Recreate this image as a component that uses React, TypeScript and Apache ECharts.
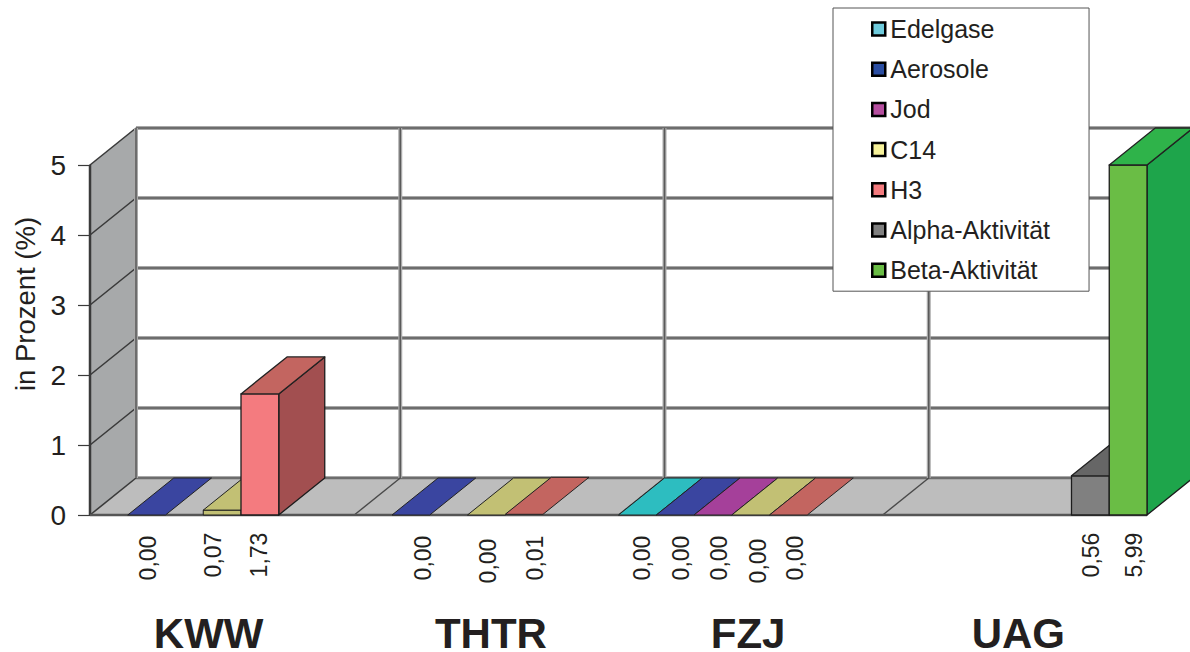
import React, { useEffect, useRef } from "react";
import * as echarts from "echarts";

const categories = ["KWW", "THTR", "FZJ", "UAG"];
const yTicks = [0, 1, 2, 3, 4, 5];
const seriesNames = ["Edelgase", "Aerosole", "Jod", "C14", "H3", "Alpha-Aktivität", "Beta-Aktivität"];
const edelgase = [null, null, 0.0, null];
const aerosole = [0.0, 0.0, 0.0, null];
const jod = [null, null, 0.0, null];
const c14 = [0.07, 0.0, 0.0, null];
const h3 = [1.73, 0.01, 0.0, null];
const alpha = [null, null, null, 0.56];
const beta = [null, null, null, 5.99];
const seriesValues = [edelgase, aerosole, jod, c14, h3, alpha, beta];

// Presentation only
const FRONT = ["#6fcbdc", "#2b4ea2", "#b54e9f", "#f7f29a", "#f47b7f", "#808080", "#6abd45"];
const TOP = ["#2dbdc0", "#3a45a0", "#a5409a", "#c2c074", "#c36560", "#666666", "#2fb34a"];
const SIDE = ["#25a0a3", "#2c3580", "#85337c", "#9a985c", "#a24f50", "#555555", "#1ea54b"];
const LABEL_NUDGE: Record<string, [number, number]> = {
  "1-0": [1, 0], "3-0": [-9, -3], "4-0": [-1, -3],
  "1-1": [12, 0], "3-1": [2, 3], "4-1": [11, 0],
  "0-2": [5, 0], "1-2": [6, 0], "2-2": [6, 0], "3-2": [7, 3], "4-2": [7, 0],
  "5-3": [1, -3], "6-3": [6, -3],
};
const DX = 46;
const DY = -37;
const SEGMENTS = seriesNames.length;
const INK = "#231f20";
const FONT = '"Liberation Sans", Arial, sans-serif';

function line(a: number[], b: number[], stroke: string, lineWidth: number) {
  return { type: "line", silent: true, shape: { x1: a[0], y1: a[1], x2: b[0], y2: b[1] }, style: { stroke, lineWidth } };
}
function poly(points: number[][], fill: string, stroke: string, lineWidth = 1) {
  return { type: "polygon", silent: true, shape: { points }, style: { fill, stroke, lineWidth, lineJoin: "round" } };
}
function gridStroke(a: number[], b: number[]) {
  return [line(a, b, "#a9a9a9", 4), line(a, b, "#5a5a5a", 1.5)];
}

function renderWalls(_p: any, api: any) {
  const band = api.size([1, 0])[0];
  const [x0, y0] = api.coord([0, 0]);
  const left = x0 - band / 2;
  const right = left + band * categories.length;
  const yTop = api.coord([0, 5])[1];
  const children: any[] = [];
  children.push(poly([[left, y0], [left + DX, y0 + DY], [left + DX, yTop + DY], [left, yTop]], "#a7a9aa", "none"));
  children.push(poly([[left, y0], [right, y0], [right + DX, y0 + DY], [left + DX, y0 + DY]], "#bdbdbd", "none"));
  yTicks.forEach((t) => {
    const y = api.coord([0, t])[1];
    children.push(...gridStroke([left + DX, y + DY], [right + DX, y + DY]));
    children.push(line([left, y], [left + DX, y + DY], "#3a3a3a", 1.6));
  });
  categories.forEach((_c, i) => {
    const x = left + band * i;
    children.push(...gridStroke([x + DX, yTop + DY], [x + DX, y0 + DY]));
    if (i > 0) children.push(line([x, y0], [x + DX, y0 + DY], "#4a4a4a", 1.4));
  });
  children.push(line([left, yTop], [left, y0], "#3a3a3a", 2.5));
  children.push(line([left, y0], [right, y0], "#555555", 2.5));
  return { type: "group", children };
}

function renderBar(s: number) {
  return (_p: any, api: any) => {
    const cat = api.value(0);
    const v = api.value(1);
    const band = api.size([1, 0])[0];
    const seg = band / SEGMENTS;
    const c = api.coord([cat, 0]);
    const top = api.coord([cat, Math.min(v, 5)])[1];
    const xa = c[0] - band / 2 + seg * s;
    const xb = xa + seg;
    const y0 = c[1];
    const ink = "#1c1c1c";
    const h = y0 - top;
    const children: any[] = [];
    if (h > 8) {
      children.push(poly([[xb, y0], [xb + DX, y0 + DY], [xb + DX, top + DY], [xb, top]], SIDE[s], ink, 1.3));
      children.push(poly([[xa, y0], [xb, y0], [xb, top], [xa, top]], FRONT[s], ink, 1.3));
    } else if (h > 0.8) {
      children.push(poly([[xa, y0], [xb, y0], [xb, top], [xa, top]], TOP[s], ink, 1));
    }
    children.push(poly([[xa, top], [xb, top], [xb + DX, top + DY], [xa + DX, top + DY]], TOP[s], "#222222", h > 8 ? 1.3 : 1));
    const nudge = LABEL_NUDGE[`${s}-${cat}`] || [0, 0];
    children.push({
      type: "text",
      silent: true,
      x: (xa + xb) / 2 + nudge[0],
      y: 558 + nudge[1],
      rotation: Math.PI / 2,
      style: {
        text: v.toFixed(2).replace(".", ","),
        x: 0,
        y: 0,
        align: "center",
        verticalAlign: "middle",
        fill: INK,
        font: `23px ${FONT}`,
      },
    });
    return { type: "group", children };
  };
}

const CAT_PAD: Record<string, number[]> = {
  KWW: [0, 27, 0, 0],
  THTR: [0, 0, 0, 9],
  FZJ: [0, 5, 0, 0],
  UAG: [0, 0, 0, 7],
};

export default function App() {
  const ref = useRef<HTMLDivElement>(null);
  useEffect(() => {
    document.body.style.margin = "0";
    const chart = echarts.init(ref.current!, undefined, { renderer: "svg" });
    const rich: any = {};
    categories.forEach((c) => {
      rich[c] = { fontSize: 42, lineHeight: 36, fontWeight: "bold", color: INK, fontFamily: FONT, padding: CAT_PAD[c] };
    });
    chart.setOption({
      animation: false,
      backgroundColor: "#ffffff",
      textStyle: { fontFamily: FONT },
      grid: { left: 90, right: 43, top: 165, bottom: 137, containLabel: false, outerBoundsMode: "none" },
      legend: {
        orient: "vertical",
        left: 833,
        top: 8,
        selectedMode: false,
        backgroundColor: "#ffffff",
        borderColor: "#555555",
        borderWidth: 1,
        padding: [8.5, 39, 8.5, 38],
        itemGap: 15.2,
        itemWidth: 13,
        itemHeight: 13,
        textStyle: { fontSize: 25, color: INK, fontFamily: FONT, lineHeight: 25 },
        data: seriesNames.map((name, i) => ({
          name,
          icon: "rect",
          itemStyle: { color: FRONT[i], borderColor: "#000000", borderWidth: 2.5 },
        })),
      },
      xAxis: {
        type: "category",
        data: categories,
        boundaryGap: true,
        axisLine: { show: false },
        axisTick: { show: false },
        axisLabel: {
          margin: 100,
          interval: 0,
          formatter: (v: string) => `{${v}|${v}}`,
          rich,
        },
      },
      yAxis: {
        type: "value",
        min: 0,
        max: 5,
        interval: 1,
        name: "in Prozent (%)",
        nameLocation: "middle",
        nameMoveOverlap: false,
        nameGap: 51,
        nameTextStyle: { fontSize: 27.5, color: INK, fontFamily: FONT, padding: [0, 0, 0, 72] },
        splitLine: { show: false },
        axisLine: { show: true, lineStyle: { color: "#3a3a3a", width: 1.5 } },
        axisTick: { show: true, length: 12, lineStyle: { color: "#3a3a3a", width: 1.2 } },
        axisLabel: { fontSize: 28, color: INK, margin: 24, fontFamily: FONT },
      },
      series: [
        {
          name: "walls",
          type: "custom",
          silent: true,
          z: 1,
          renderItem: renderWalls,
          data: [[0, 0]],
        },
        ...seriesNames.map((name, s) => ({
          name,
          type: "custom",
          silent: true,
          z: 2 + s,
          itemStyle: { color: FRONT[s] },
          renderItem: renderBar(s),
          data: seriesValues[s]
            .map((v, i) => [i, v])
            .filter((d) => d[1] !== null),
        })),
      ],
    });
    return () => chart.dispose();
  }, []);
  return <div ref={ref} style={{ width: 1190, height: 652, position: "absolute", left: 0, top: 0, overflow: "hidden" }} />;
}
